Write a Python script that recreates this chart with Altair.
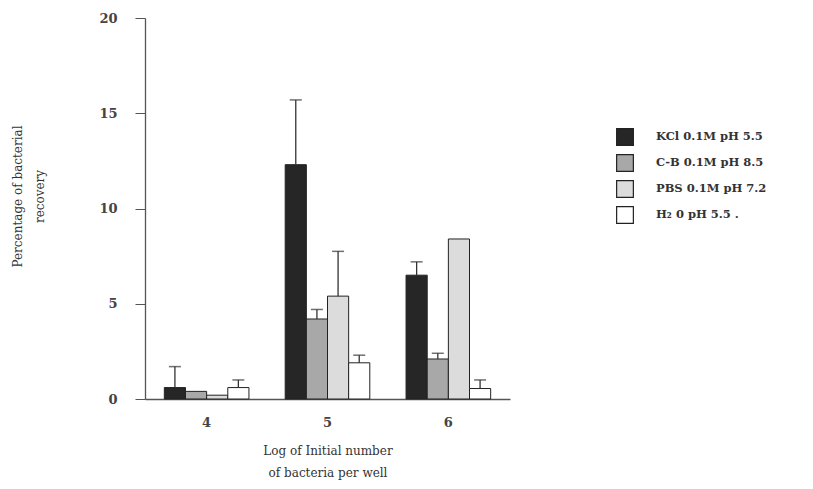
import altair as alt
import pandas as pd

groups = ["4", "5", "6"]
series = ["KCl 0.1M pH 5.5", "C-B 0.1M pH 8.5", "PBS 0.1M pH 7.2", "H\u2082 0 pH 5.5 ."]
kcl = [0.6, 12.3, 6.5]
kcl_top = [1.7, 15.7, 7.2]
cb = [0.4, 4.2, 2.1]
cb_top = [None, 4.7, 2.4]
pbs = [0.2, 5.4, 8.4]
pbs_top = [None, 7.75, None]
h2o = [0.6, 1.9, 0.55]
h2o_top = [1.0, 2.3, 1.0]
colors = ["#262626", "#a8a8a8", "#dcdcdc", "#ffffff"]

vals = [kcl, cb, pbs, h2o]
tops = [kcl_top, cb_top, pbs_top, h2o_top]
rows = []
for s, v, t in zip(series, vals, tops):
    for g, vi, ti in zip(groups, v, t):
        rows.append({"group": g, "series": s, "value": vi, "top": ti})
df = pd.DataFrame(rows)

FONT = "DejaVu Serif"

x = alt.X("group:N", sort=groups,
          scale=alt.Scale(paddingInner=0.3, paddingOuter=0.16),
          axis=alt.Axis(title=["Log of Initial number", "of bacteria per well"],
                        labelAngle=0, ticks=False, labelPadding=17,
                        titlePadding=16, titleLineHeight=22))
xo = alt.XOffset("series:N", sort=series, scale=alt.Scale(paddingInner=0))
y = alt.Y("value:Q", scale=alt.Scale(domain=[0, 20], nice=False),
          axis=alt.Axis(values=[0, 5, 10, 15, 20], tickSize=10, labelPadding=18,
                        grid=False, title=["Percentage of bacterial", "recovery"],
                        titleX=-133, titleY=178, titleBaseline="top",
                        titleLineHeight=22))

bars = alt.Chart(df).mark_bar(stroke="#222", strokeWidth=1).encode(
    x=x, xOffset=xo, y=y,
    fill=alt.Fill("series:N", sort=series,
                  scale=alt.Scale(domain=series, range=colors),
                  legend=alt.Legend(title=None, orient="none", legendX=471, legendY=110,
                                    symbolType="square", symbolSize=280,
                                    symbolStrokeColor="#222", symbolStrokeWidth=1.2,
                                    rowPadding=4, labelOffset=22, padding=0,
                                    labelFont=FONT, labelFontSize=11.5,
                                    labelFontWeight="bold", labelColor="#333")),
)

err = df.dropna(subset=["top"])
rules = alt.Chart(err).mark_rule(color="#333", strokeWidth=1.3).encode(
    x=x, xOffset=xo, y="value:Q", y2="top:Q")
caps = alt.Chart(err).mark_tick(color="#333", orient="horizontal", size=12, thickness=1.5).encode(
    x=x, xOffset=xo, y="top:Q")

chart = alt.layer(bars, rules, caps).properties(
    width=365, height=381,
    autosize=alt.AutoSizeParams(type="none"),
    padding={"left": 137, "top": 10, "right": 295, "bottom": 82},
    background="white",
).configure_view(stroke=None).configure_axis(
    domainColor="#555", tickColor="#555", domainWidth=1.3,
    labelFont=FONT, labelFontSize=13, labelFontWeight="bold", labelColor="#444",
    titleFont=FONT, titleFontSize=12, titleFontWeight="normal", titleColor="#333",
)

chart.save("out.html", embed_options={"renderer": "svg", "actions": False})
